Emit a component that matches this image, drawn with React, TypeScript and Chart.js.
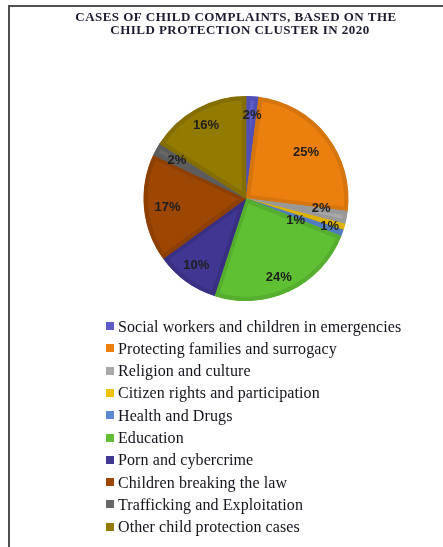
import React, { useEffect, useRef } from "react";
import { Chart, registerables } from "chart.js";

Chart.register(...registerables);

const titleLines = [
  "CASES OF CHILD COMPLAINTS, BASED ON THE",
  "CHILD PROTECTION CLUSTER IN 2020",
];

const categories = [
  "Social workers and children in emergencies",
  "Protecting families and surrogacy",
  "Religion and culture",
  "Citizen rights and participation",
  "Health and Drugs",
  "Education",
  "Porn and cybercrime",
  "Children breaking the law",
  "Trafficking and Exploitation",
  "Other child protection cases",
];

const percentages = [2, 25, 2, 1, 1, 24, 10, 17, 2, 16];

const sliceColors = [
  "#5C5CC8",
  "#EB800F",
  "#A8A8A8",
  "#F0C200",
  "#5C88D2",
  "#60C034",
  "#403793",
  "#9E4703",
  "#676767",
  "#937A00",
];

// slightly darker edge band (bevel look)
const edgeColors = [
  "#5050B4",
  "#D6740D",
  "#999999",
  "#DDB200",
  "#527CC0",
  "#55AE2D",
  "#393084",
  "#8E3F02",
  "#5C5C5C",
  "#846E00",
];

// label placement style: fraction of radius and angular nudge (degrees)
const labelRadiusFrac = [0.81, 0.74, 0.74, 0.86, 0.53, 0.83, 0.81, 0.77, 0.77, 0.81];
const labelAngleNudge = [0.7, 0, -3, 2, 4, 2.5, 0.7, -1, 0, 0];

const W = 443;
const H = 547;

const overlayPlugin = {
  id: "overlay",
  afterDatasetsDraw(chart: any) {
    const ctx = chart.ctx as CanvasRenderingContext2D;
    const meta = chart.getDatasetMeta(0);
    ctx.save();
    ctx.fillStyle = "#1e1e1e";
    ctx.font = "bold 13px 'Liberation Sans', Arial, sans-serif";
    ctx.textAlign = "center";
    ctx.textBaseline = "middle";
    meta.data.forEach((arc: any, i: number) => {
      const p = arc.getProps(["x", "y", "startAngle", "endAngle", "outerRadius"], true);
      const mid = (p.startAngle + p.endAngle) / 2 + (labelAngleNudge[i] * Math.PI) / 180;
      const r = p.outerRadius * labelRadiusFrac[i];
      ctx.fillText(percentages[i] + "%", p.x + Math.cos(mid) * r, p.y + Math.sin(mid) * r);
    });

    // title
    ctx.fillStyle = "#1b1b30";
    ctx.font = "bold 13px 'Liberation Serif', 'Times New Roman', serif";
    ctx.textBaseline = "alphabetic";
    (ctx as any).letterSpacing = "0.45px";
    const titleX = [236, 240];
    titleLines.forEach((t, i) => ctx.fillText(t, titleX[i], 21 + i * 12.7));
    (ctx as any).letterSpacing = "0px";

    // legend
    ctx.textAlign = "left";
    ctx.font = "16px 'Liberation Serif', 'Times New Roman', serif";
    (ctx as any).letterSpacing = "0.1px";
    categories.forEach((c, i) => {
      const cy = 326 + i * 22.3;
      ctx.fillStyle = sliceColors[i];
      ctx.fillRect(106, Math.round(cy - 4), 8, 8);
      ctx.fillStyle = "#12121c";
      ctx.fillText(c, 118, cy + 5.5);
    });
    (ctx as any).letterSpacing = "0px";
    ctx.restore();
  },
};

export default function App() {
  const ref = useRef<HTMLCanvasElement | null>(null);
  useEffect(() => {
    if (!ref.current) return;
    const chart = new Chart(ref.current, {
      type: "pie",
      data: {
        labels: categories,
        datasets: [
          {
            data: percentages,
            backgroundColor: sliceColors,
            borderColor: edgeColors,
            borderWidth: 4,
            borderAlign: "inner",
          },
        ],
      },
      options: {
        responsive: false,
        animation: false,
        layout: { padding: { left: 143.5, right: 94.5, top: 96, bottom: 246 } },
        plugins: {
          legend: { display: false },
          tooltip: { enabled: false },
          title: { display: false },
        },
      },
      plugins: [overlayPlugin],
    });
    return () => chart.destroy();
  }, []);

  return (
    <div style={{ position: "absolute", left: 0, top: 0, width: W, height: H, background: "#fff", overflow: "hidden" }}>
      <div style={{ position: "absolute", left: 8, top: 5, right: 0, height: 2, background: "#505050" }} />
      <div style={{ position: "absolute", left: 8, top: 5, bottom: 0, width: 2, background: "#505050" }} />
      <canvas ref={ref} width={W} height={H} style={{ position: "absolute", left: 0, top: 0 }} />
    </div>
  );
}
